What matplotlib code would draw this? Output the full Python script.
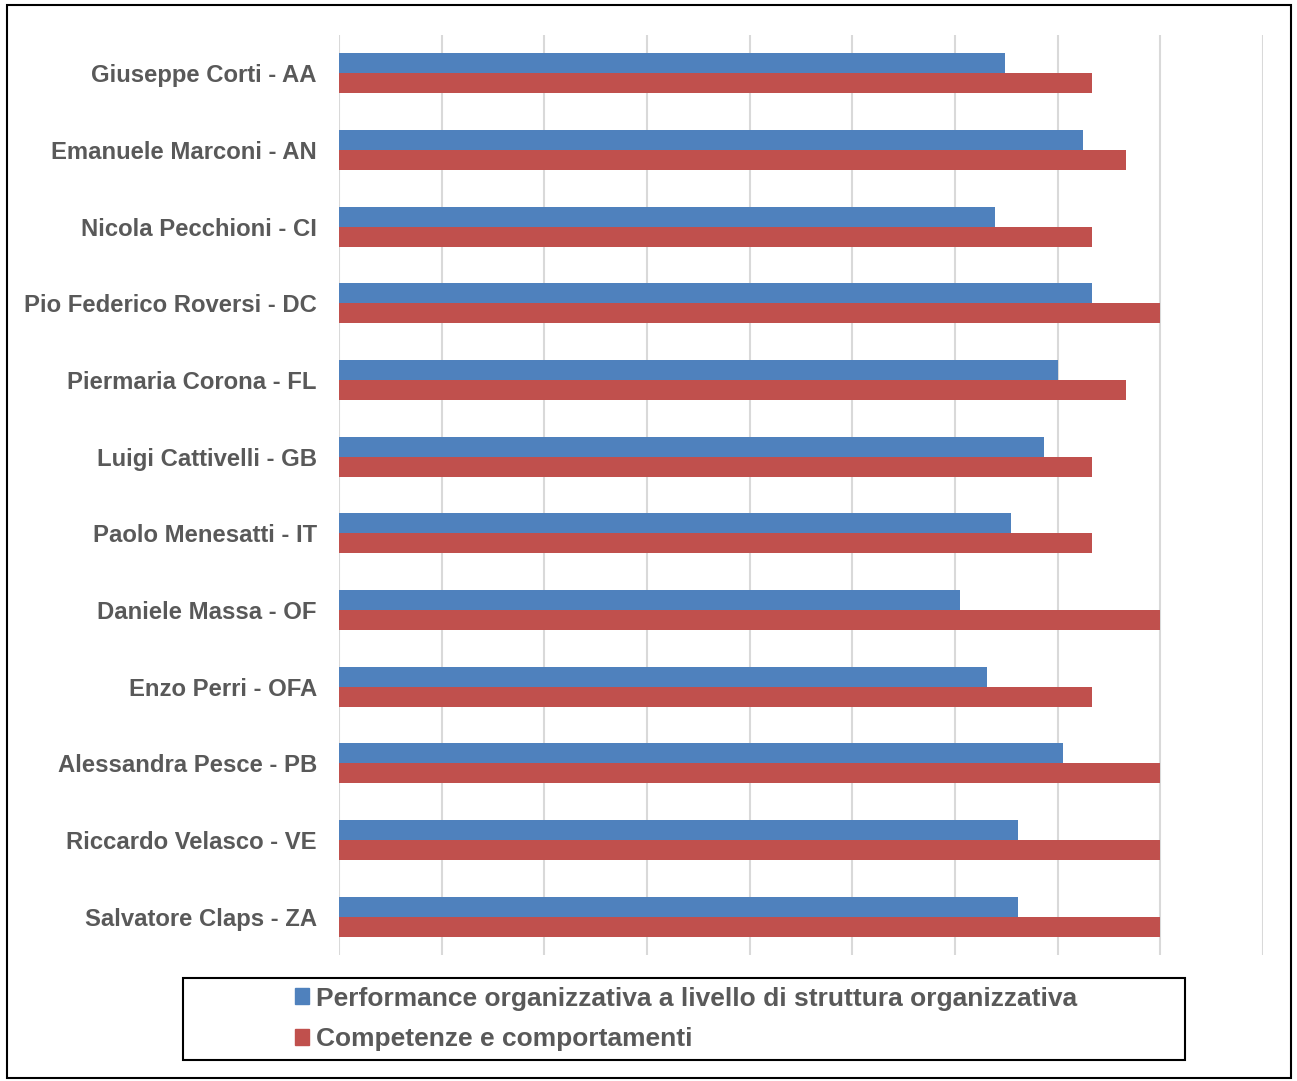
import matplotlib.pyplot as plt
from matplotlib.patches import Rectangle, Patch

plt.rcParams['font.family'] = ['Liberation Sans', 'DejaVu Sans']

nomi = ['Giuseppe Corti - AA', 'Emanuele Marconi - AN', 'Nicola Pecchioni - CI',
        'Pio Federico Roversi - DC', 'Piermaria Corona - FL', 'Luigi Cattivelli - GB',
        'Paolo Menesatti - IT', 'Daniele Massa - OF', 'Enzo Perri - OFA',
        'Alessandra Pesce - PB', 'Riccardo Velasco - VE', 'Salvatore Claps - ZA']
performance = [6.49, 7.25, 6.39, 7.33, 7.0, 6.87, 6.55, 6.05, 6.31, 7.05, 6.61, 6.61]
competenze = [7.33, 7.67, 7.33, 8.0, 7.67, 7.33, 7.33, 8.0, 7.33, 8.0, 8.0, 8.0]
serie = ['Performance organizzativa a livello di struttura organizzativa',
         'Competenze e comportamenti']

blu = '#4f81bd'
rosso = '#c0504d'
grigio = '#595959'

fig = plt.figure(figsize=(12.97, 10.81), dpi=100)
ax = fig.add_axes([339 / 1297, 1 - 955 / 1081, 924 / 1297, 920 / 1081])

pos = list(range(len(nomi)))
h = 0.26
ax.barh([p - h / 2 for p in pos], performance, height=h, color=blu, zorder=3)
ax.barh([p + h / 2 for p in pos], competenze, height=h, color=rosso, zorder=3)

ax.set_xlim(0, 9)
ax.set_ylim(len(nomi) - 0.5, -0.5)
ax.set_xticks(range(10))
ax.set_xticklabels([])
ax.grid(axis='x', color='#d9d9d9', linewidth=1.5, zorder=0)
ax.set_yticks(pos)
ax.set_yticklabels(nomi, fontsize=17.2, fontweight='bold', color=grigio)
ax.tick_params(axis='y', length=0, pad=16)
ax.tick_params(axis='x', length=0)
for s in ax.spines.values():
    s.set_visible(False)

# riquadro legenda
fig.add_artist(Rectangle((183 / 1297, 1 - 1060 / 1081), 1002 / 1297, 82 / 1081,
                         transform=fig.transFigure, fill=False, edgecolor='black',
                         linewidth=1.5))
handles = [Patch(color=blu), Patch(color=rosso)]
leg = fig.legend(handles, serie, loc='center left', bbox_to_anchor=(271 / 1297, 1 - 1019 / 1081),
                 frameon=False, handlelength=0.55, handleheight=0.55, handletextpad=0.25,
                 labelspacing=0.64, prop={'size': 19, 'weight': 'bold'})
for t in leg.get_texts():
    t.set_color(grigio)

# bordo esterno
fig.add_artist(Rectangle((7 / 1297, 1 - 1078 / 1081), 1284 / 1297, 1073 / 1081,
                         transform=fig.transFigure, fill=False, edgecolor='black',
                         linewidth=1.5))

fig.savefig('out.png', dpi=100)
